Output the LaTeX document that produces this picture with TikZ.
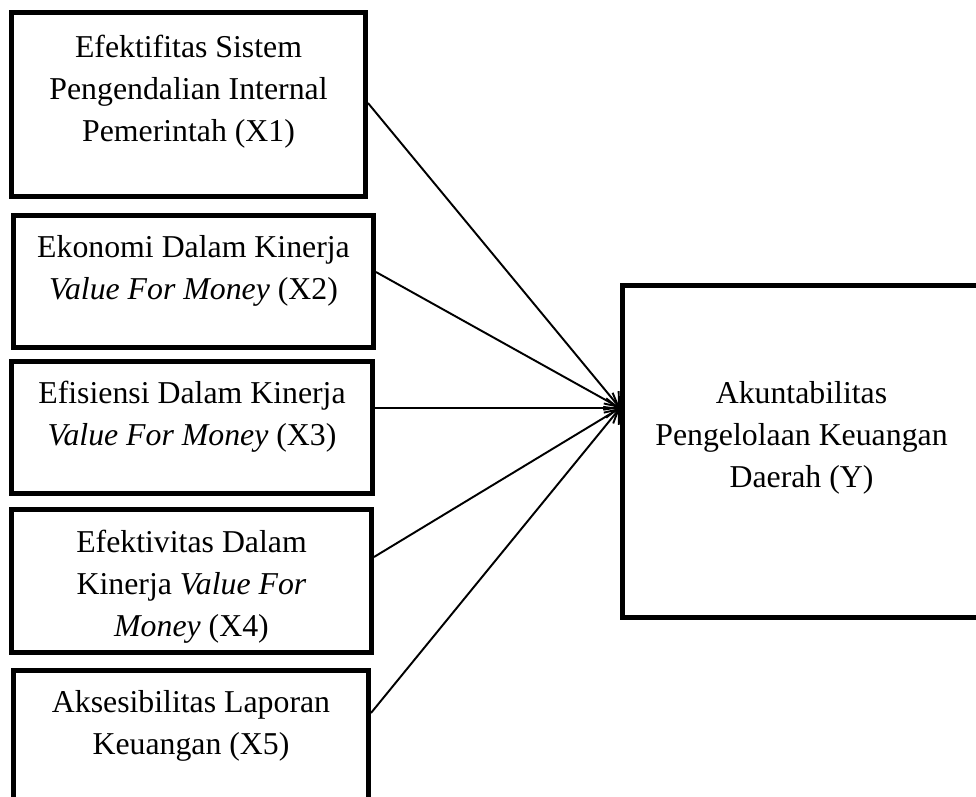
\documentclass[tikz,border=0pt]{standalone}
\usepackage{fontspec}
\setmainfont{Liberation Serif}
\usetikzlibrary{calc,arrows.meta}

\begin{document}
\begin{tikzpicture}[x=0.02cm, y=-0.02cm,
    var/.style={draw, line width=2.85pt, rectangle},
    lbl/.style={anchor=north, inner sep=0pt, align=center,
        font=\fontsize{18.1}{23.9}\selectfont},
    link/.style={line width=1.1pt, -{Straight Barb[length=7pt,width=11pt]}}]
    \useasboundingbox (0,0) rectangle (976,796);

    % ---- Independent variables ----
    \node[var, minimum width=7.08cm, minimum height=3.68cm] (x1) at (188.5,104.5) {};
    \node[var, minimum width=7.2cm,  minimum height=2.64cm] (x2) at (193.5,281.5) {};
    \node[var, minimum width=7.22cm, minimum height=2.64cm] (x3) at (192,427.5) {};
    \node[var, minimum width=7.2cm,  minimum height=2.86cm] (x4) at (191.5,581) {};
    \node[var, minimum width=7.1cm,  minimum height=3.0cm]  (x5) at (191,745.5) {};

    % ---- Dependent variable ----
    \node[var, minimum width=7.16cm, minimum height=6.64cm] (y) at (801.5,451.5) {};

    % Labels
    \node[lbl] (t1) at ($(x1.north)+(0,17.6)$) {\strut Efektifitas Sistem\\Pengendalian Internal\\Pemerintah (X1)};
    \node[lbl] (t2) at ($(x2.north)+(0,14.3)$) {\strut Ekonomi Dalam Kinerja\\\textit{Value For Money} (X2)};
    \node[lbl] (t3) at ($(x3.north)+(0,14.3)$) {\strut Efisiensi Dalam Kinerja\\\textit{Value For Money} (X3)};
    \node[lbl] (t4) at ($(x4.north)+(0,15.3)$) {\strut Efektivitas Dalam\\Kinerja \textit{Value For}\\\textit{Money} (X4)};
    \node[lbl] (t5) at ($(x5.north)+(0,14.3)$) {\strut Aksesibilitas Laporan\\Keuangan (X5)};
    \node[lbl] (ty) at ($(y.north)+(0,90.6)$) {\strut Akuntabilitas\\Pengelolaan Keuangan\\Daerah (Y)};

    % Arrows
    \coordinate (hub) at ($(y.west)+(0,-43.5)$);
    \draw[link] ($(x1.east)+(0,-1.5)$) -- (hub);
    \draw[link] ($(x2.east)+(0,-9.5)$) -- (hub);
    \draw[link] ($(x3.east)+(0,-19.5)$) -- (hub);
    \draw[link] ($(x4.east)+(0,-24)$) -- (hub);
    \draw[link] ($(x5.east)+(0,-32.5)$) -- (hub);
\end{tikzpicture}
\end{document}
